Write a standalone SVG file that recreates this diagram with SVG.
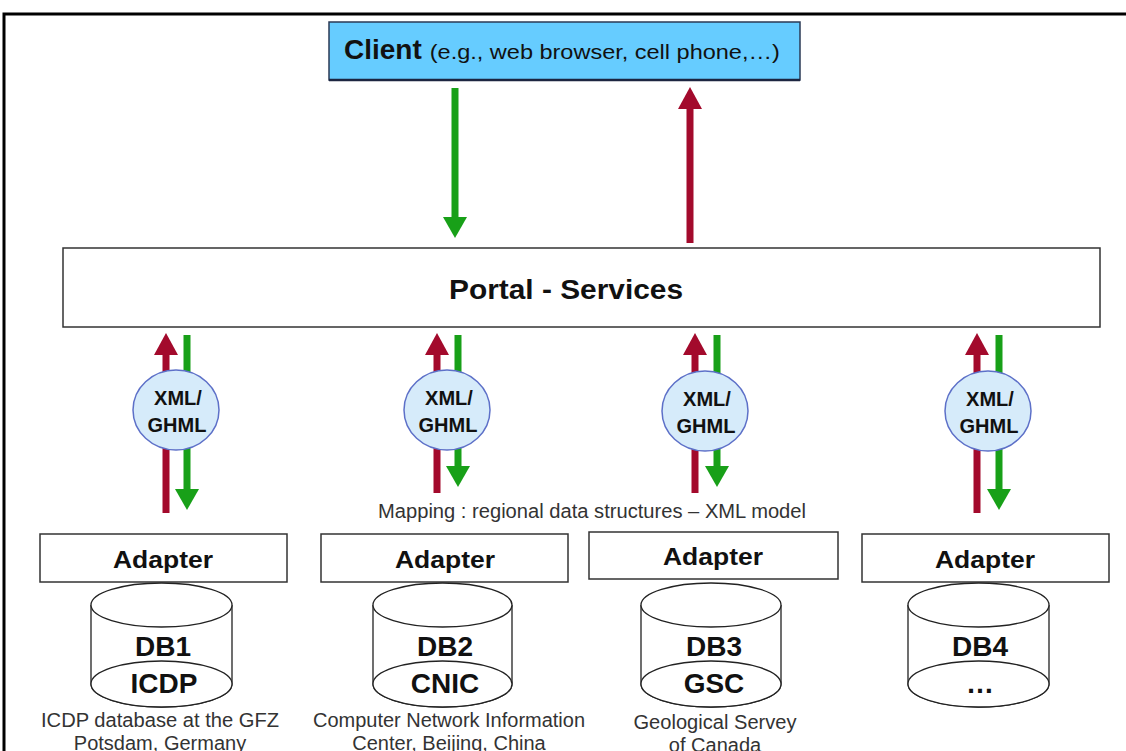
<svg xmlns="http://www.w3.org/2000/svg" width="1126" height="751" viewBox="0 0 1126 751">
  <defs>
    <style>
      .frame { fill: none; stroke: #000; stroke-width: 3; }
      .box { fill: #fff; stroke: #333; stroke-width: 1.5; }
      .client { fill: #66CCFF; stroke: #2b3a55; stroke-width: 1.5; }
      .bubble { fill: #D6EBFA; stroke: #5D70C8; stroke-width: 1.5; }
      .db { fill: #fff; stroke: #222; stroke-width: 1.3; }
      .b { font-family: "Liberation Sans", Arial, sans-serif; font-weight: bold; fill: #111; text-anchor: middle; }
      .r { font-family: "Liberation Sans", Arial, sans-serif; fill: #333; text-anchor: middle; }
      .up { stroke: #A30A2C; stroke-width: 7; fill: none; marker-end: url(#headRed); }
      .down { stroke: #18A018; stroke-width: 7; fill: none; marker-end: url(#headGreen); }
    </style>
    <marker id="headRed" markerUnits="userSpaceOnUse" viewBox="0 0 22 24" markerWidth="22" markerHeight="24" refX="0" refY="12" orient="auto">
      <path d="M0,0 L22,12 L0,24 z" fill="#A30A2C"/>
    </marker>
    <marker id="headGreen" markerUnits="userSpaceOnUse" viewBox="0 0 21 24" markerWidth="21" markerHeight="24" refX="0" refY="12" orient="auto">
      <path d="M0,0 L21,12 L0,24 z" fill="#18A018"/>
    </marker>
  </defs>

  <rect width="1126" height="751" fill="#fff"/>
  <path class="frame" d="M4,760 V14 H1130"/>

  <!-- request / response flows -->
  <g id="connectors">
    <line class="down" x1="455" y1="88" x2="455" y2="217"/>
    <line class="up" x1="690" y1="243" x2="690" y2="109"/>

    <line class="up" x1="166" y1="513" x2="166" y2="355"/>
    <line class="down" x1="187" y1="335" x2="187" y2="489"/>

    <line class="up" x1="437" y1="493" x2="437" y2="355"/>
    <line class="down" x1="458" y1="335" x2="458" y2="466"/>

    <line class="up" x1="695" y1="493" x2="695" y2="355"/>
    <line class="down" x1="717" y1="335" x2="717" y2="466"/>

    <line class="up" x1="977" y1="513" x2="977" y2="355"/>
    <line class="down" x1="999" y1="335" x2="999" y2="489"/>
  </g>

  <g id="client">
    <rect class="client" x="329" y="22" width="471" height="58"/>
    <line x1="329" y1="80" x2="800" y2="80" stroke="#1c2540" stroke-width="2.5"/>
    <text x="344" y="59" style="font-family: 'Liberation Sans', Arial, sans-serif; fill:#111"><tspan font-weight="bold" font-size="28">Client</tspan><tspan font-size="21" dx="8" textLength="350" lengthAdjust="spacingAndGlyphs">(e.g., web browser, cell phone,…)</tspan></text>
  </g>

  <g id="portal">
    <rect class="box" x="63" y="248" width="1037" height="79"/>
    <text class="b" x="566" y="299" font-size="28" textLength="234" lengthAdjust="spacingAndGlyphs">Portal - Services</text>
  </g>

  <g id="xml1">
    <ellipse class="bubble" cx="176" cy="410" rx="43" ry="40"/>
    <text class="b" x="178" y="405" font-size="20">XML/</text>
    <text class="b" x="177" y="432" font-size="20">GHML</text>
  </g>
  <g id="xml2">
    <ellipse class="bubble" cx="447" cy="410" rx="43" ry="40"/>
    <text class="b" x="449" y="405" font-size="20">XML/</text>
    <text class="b" x="448" y="432" font-size="20">GHML</text>
  </g>
  <g id="xml3">
    <ellipse class="bubble" cx="705" cy="411" rx="43" ry="40"/>
    <text class="b" x="707" y="406" font-size="20">XML/</text>
    <text class="b" x="706" y="433" font-size="20">GHML</text>
  </g>
  <g id="xml4">
    <ellipse class="bubble" cx="988" cy="411" rx="43" ry="40"/>
    <text class="b" x="990" y="406" font-size="20">XML/</text>
    <text class="b" x="989" y="433" font-size="20">GHML</text>
  </g>

  <text id="mapping" class="r" x="592" y="518" font-size="20" textLength="428" lengthAdjust="spacingAndGlyphs">Mapping : regional data structures – XML model</text>

  <g id="adapter1">
    <rect class="box" x="40" y="534" width="247" height="48"/>
    <text class="b" x="163" y="568" font-size="24" textLength="100" lengthAdjust="spacingAndGlyphs">Adapter</text>
  </g>
  <g id="adapter2">
    <rect class="box" x="321" y="534" width="247" height="48"/>
    <text class="b" x="445" y="568" font-size="24" textLength="100" lengthAdjust="spacingAndGlyphs">Adapter</text>
  </g>
  <g id="adapter3">
    <rect class="box" x="589" y="532" width="249" height="47"/>
    <text class="b" x="713" y="565" font-size="24" textLength="100" lengthAdjust="spacingAndGlyphs">Adapter</text>
  </g>
  <g id="adapter4">
    <rect class="box" x="862" y="534" width="247" height="48"/>
    <text class="b" x="985" y="568" font-size="24" textLength="100" lengthAdjust="spacingAndGlyphs">Adapter</text>
  </g>

  <!-- database cylinders: body outline, top rim, lower ellipse -->
  <g id="db1">
    <path class="db" d="M91,605 V684 A70.5,23 0 0 0 232,684 V605"/>
    <ellipse class="db" cx="161.5" cy="605" rx="70.5" ry="22"/>
    <ellipse class="db" cx="161.5" cy="684" rx="70.5" ry="23"/>
    <text class="b" x="163" y="656" font-size="28">DB1</text>
    <text class="b" x="164" y="693" font-size="28">ICDP</text>
    <text class="r" x="160" y="727" font-size="20" textLength="238" lengthAdjust="spacingAndGlyphs">ICDP database at the GFZ</text>
    <text class="r" x="160" y="750" font-size="20">Potsdam, Germany</text>
  </g>
  <g id="db2">
    <path class="db" d="M373,605 V684 A69.5,23 0 0 0 512,684 V605"/>
    <ellipse class="db" cx="442.5" cy="605" rx="69.5" ry="22"/>
    <ellipse class="db" cx="442.5" cy="684" rx="69.5" ry="23"/>
    <text class="b" x="445" y="656" font-size="28">DB2</text>
    <text class="b" x="445" y="693" font-size="28">CNIC</text>
    <text class="r" x="449" y="727" font-size="20" textLength="272" lengthAdjust="spacingAndGlyphs">Computer Network Information</text>
    <text class="r" x="449" y="750" font-size="20">Center, Beijing, China</text>
  </g>
  <g id="db3">
    <path class="db" d="M641,605 V684 A70,23 0 0 0 781,684 V605"/>
    <ellipse class="db" cx="711" cy="605" rx="70" ry="22"/>
    <ellipse class="db" cx="711" cy="684" rx="70" ry="23"/>
    <text class="b" x="714" y="656" font-size="28">DB3</text>
    <text class="b" x="714" y="693" font-size="28">GSC</text>
    <text class="r" x="715" y="729" font-size="20" textLength="163" lengthAdjust="spacingAndGlyphs">Geological Servey</text>
    <text class="r" x="715" y="752" font-size="20">of Canada</text>
  </g>
  <g id="db4">
    <path class="db" d="M908,605 V684 A70.5,23 0 0 0 1049,684 V605"/>
    <ellipse class="db" cx="978.5" cy="605" rx="70.5" ry="22"/>
    <ellipse class="db" cx="978.5" cy="684" rx="70.5" ry="23"/>
    <text class="b" x="980" y="656" font-size="28">DB4</text>
    <text class="b" x="980" y="693" font-size="28">…</text>
  </g>
</svg>
